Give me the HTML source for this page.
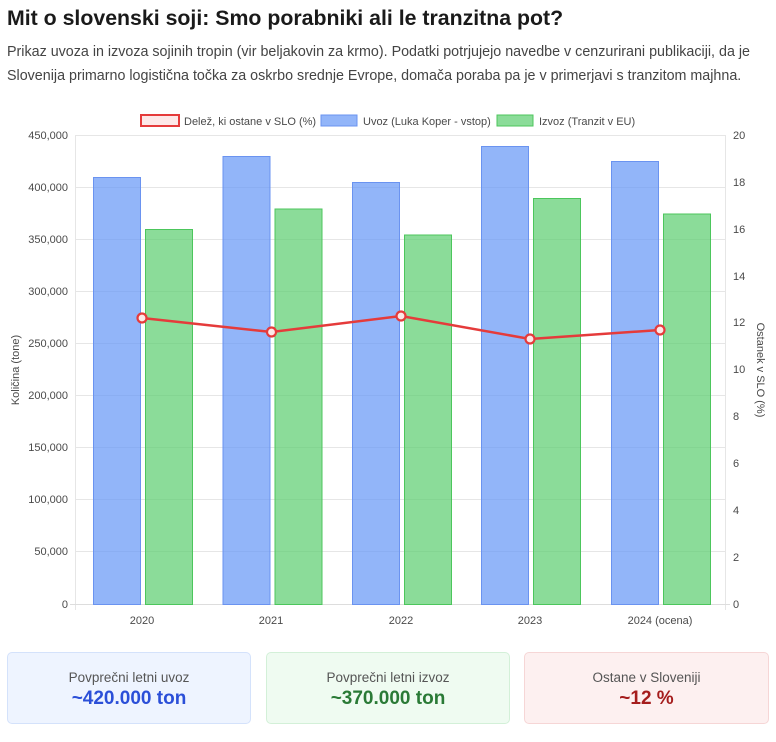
<!DOCTYPE html>
<html><head><meta charset="utf-8"><style>
body{margin:0;background:#fff;width:776px;height:742px;overflow:hidden;font-family:"Liberation Sans","DejaVu Sans",sans-serif}
h1{position:absolute;left:7px;top:6px;margin:0;font-size:21.3px;font-weight:bold;color:#1a1a1a}
p{position:absolute;left:7px;top:40px;margin:0;width:760px;font-size:14.3px;line-height:24px;color:#444}
.card{position:absolute;top:652px;height:72px;border-radius:5px;text-align:center;box-sizing:border-box}
.card .l{margin-top:17px;font-size:13.5px;color:#555}
.card .v{margin-top:3px;font-size:19px;font-weight:bold}
svg{position:absolute;left:0;top:0}
</style></head><body>
<h1>Mit o slovenski soji: Smo porabniki ali le tranzitna pot?</h1>
<p>Prikaz uvoza in izvoza sojinih tropin (vir beljakovin za krmo). Podatki potrjujejo navedbe v cenzurirani publikaciji, da je Slovenija primarno logistična točka za oskrbo srednje Evrope, domača poraba pa je v primerjavi s tranzitom majhna.</p>
<svg width="776" height="640" font-family="Liberation Sans, sans-serif" font-size="11" fill="#4a4a4a">
<g stroke="#e6e6e6" stroke-width="1">
<line x1="75" x2="725" y1="135.5" y2="135.5"/><line x1="75" x2="725" y1="187.5" y2="187.5"/><line x1="75" x2="725" y1="239.5" y2="239.5"/><line x1="75" x2="725" y1="291.5" y2="291.5"/><line x1="75" x2="725" y1="343.5" y2="343.5"/><line x1="75" x2="725" y1="395.5" y2="395.5"/><line x1="75" x2="725" y1="447.5" y2="447.5"/><line x1="75" x2="725" y1="499.5" y2="499.5"/><line x1="75" x2="725" y1="551.5" y2="551.5"/>
<line x1="75.5" x2="75.5" y1="135" y2="610"/><line x1="725.5" x2="725.5" y1="135" y2="610"/>
</g>
<line x1="70" x2="730" y1="604.5" y2="604.5" stroke="#ddd"/>
<g text-anchor="end">
<text x="68" y="139">450,000</text><text x="68" y="191">400,000</text><text x="68" y="243">350,000</text><text x="68" y="295">300,000</text><text x="68" y="347">250,000</text><text x="68" y="399">200,000</text><text x="68" y="451">150,000</text><text x="68" y="503">100,000</text><text x="68" y="555">50,000</text><text x="68" y="608">0</text>
</g>
<g text-anchor="start">
<text x="733" y="139">20</text><text x="733" y="186">18</text><text x="733" y="233">16</text><text x="733" y="280">14</text><text x="733" y="326">12</text><text x="733" y="373">10</text><text x="733" y="420">8</text><text x="733" y="467">6</text><text x="733" y="514">4</text><text x="733" y="561">2</text><text x="733" y="608">0</text>
</g>
<g text-anchor="middle">
<text x="142" y="624">2020</text><text x="271" y="624">2021</text><text x="401" y="624">2022</text><text x="530" y="624">2023</text><text x="660" y="624">2024 (ocena)</text>
</g>
<text transform="translate(19,370) rotate(-90)" text-anchor="middle">Količina (tone)</text>
<text transform="translate(757,370) rotate(90)" text-anchor="middle">Ostanek v SLO (%)</text>
<g fill="rgba(100,149,247,0.7)" stroke="#6a93f0" stroke-width="1">
<rect x="93.5" y="177.5" width="47" height="427"/><rect x="223" y="156.5" width="47" height="448"/><rect x="352.5" y="182.5" width="47" height="422"/><rect x="481.5" y="146.5" width="47" height="458"/><rect x="611.5" y="161.5" width="47" height="443"/>
</g>
<g fill="rgba(90,205,110,0.7)" stroke="#4cc65c" stroke-width="1">
<rect x="145.5" y="229.5" width="47" height="375"/><rect x="275" y="209" width="47" height="395.5"/><rect x="404.5" y="235" width="47" height="369.5"/><rect x="533.5" y="198.5" width="47" height="406"/><rect x="663.5" y="214" width="47" height="390.5"/>
</g>
<polyline points="142,318 271.5,332 401,316 530,339 660,330" fill="none" stroke="#e53b3b" stroke-width="2.5"/>
<g fill="#fde8e8" stroke="#e53b3b" stroke-width="2.2">
<circle cx="142" cy="318" r="4.5"/><circle cx="271.5" cy="332" r="4.5"/><circle cx="401" cy="316" r="4.5"/><circle cx="530" cy="339" r="4.5"/><circle cx="660" cy="330" r="4.5"/>
</g>
<rect x="141" y="115" width="38" height="11" fill="#fde8e8" stroke="#e53b3b" stroke-width="2"/>
<text x="184" y="125">Delež, ki ostane v SLO (%)</text>
<rect x="321" y="115" width="36" height="11" fill="rgba(100,149,247,0.7)" stroke="#6a93f0"/>
<text x="363" y="125">Uvoz (Luka Koper - vstop)</text>
<rect x="497" y="115" width="36" height="11" fill="rgba(90,205,110,0.7)" stroke="#4cc65c"/>
<text x="539" y="125">Izvoz (Tranzit v EU)</text>
</svg>
<div class="card" style="left:7px;width:244px;background:#eef4ff;border:1px solid #d4e2fb"><div class="l">Povprečni letni uvoz</div><div class="v" style="color:#2b4fd8">~420.000 ton</div></div>
<div class="card" style="left:266px;width:244px;background:#effbf1;border:1px solid #d3f0d8"><div class="l">Povprečni letni izvoz</div><div class="v" style="color:#2a7a36">~370.000 ton</div></div>
<div class="card" style="left:524px;width:245px;background:#fdf0f0;border:1px solid #f6d6d6"><div class="l">Ostane v Sloveniji</div><div class="v" style="color:#a51d1d">~12 %</div></div>
</body></html>
